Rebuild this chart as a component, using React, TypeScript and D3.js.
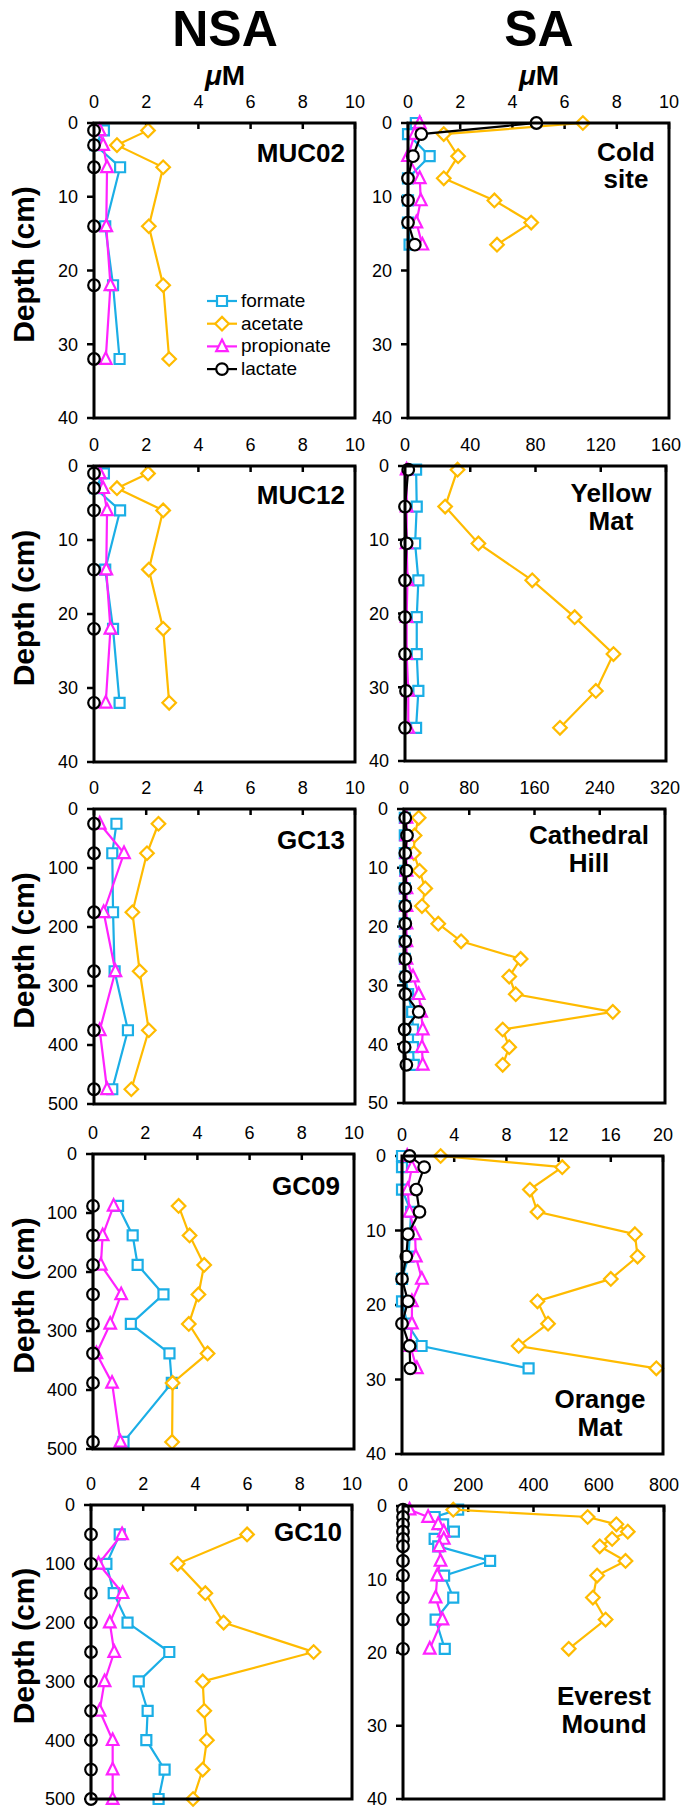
import React from 'react';
import * as d3 from 'd3';

// ---------- data ----------
const seriesNames = ['formate', 'acetate', 'propionate', 'lactate'];

const nsaXTicks = [0, 2, 4, 6, 8, 10];
const coldXTicks = [0, 2, 4, 6, 8, 10];
const yellowXTicks = [0, 40, 80, 120, 160];
const cathedralXTicks = [0, 80, 160, 240, 320];
const orangeXTicks = [0, 4, 8, 12, 16, 20];
const everestXTicks = [0, 200, 400, 600, 800];
const shallowYTicks = [0, 10, 20, 30, 40];
const deepYTicks = [0, 100, 200, 300, 400, 500];
const cathedralYTicks = [0, 10, 20, 30, 40, 50];

const muc02Depth = [1, 3, 6, 14, 22, 32];
const muc02Formate = [0.38, 0.05, 1.0, 0.43, 0.73, 0.98];
const muc02Acetate = [2.07, 0.88, 2.65, 2.1, 2.65, 2.88];
const muc02Propionate = [0.22, 0.35, 0.5, 0.47, 0.63, 0.45];
const muc02Lactate = [0, 0, 0, 0, 0, 0];

const coldDepth = [0, 1.5, 4.5, 7.5, 10.5, 13.5, 16.5];
const coldFormate = [0.3, 0, 0.83, 0, 0, 0, 0.06];
const coldAcetate = [6.7, 1.37, 1.92, 1.37, 3.31, 4.72, 3.41];
const coldPropionate = [0.45, 0.26, 0, 0.45, 0.49, 0.32, 0.55];
const coldLactate = [4.92, 0.51, 0.19, 0, 0, 0, 0.26];

const muc12Depth = [1, 3, 6, 14, 22, 32];
const muc12Formate = [0.38, 0.05, 1.0, 0.43, 0.73, 0.98];
const muc12Acetate = [2.07, 0.88, 2.65, 2.1, 2.65, 2.88];
const muc12Propionate = [0.22, 0.35, 0.5, 0.47, 0.63, 0.45];
const muc12Lactate = [0, 0, 0, 0, 0, 0];

const yellowDepth = [0.5, 5.5, 10.5, 15.5, 20.5, 25.5, 30.5, 35.5];
const yellowFormate = [6.8, 7.2, 6.2, 8.2, 7.2, 7.2, 8.2, 6.8];
const yellowAcetate = [32.2, 24.6, 45, 78, 104, 127.8, 117, 95];
const yellowPropionate = [1, 1, 1, 1.5, 1, 1, 2, 2];
const yellowLactate = [2, 0, 1, 0, 0, 0, 0.6, 0];

const gc13Depth = [25, 75, 175, 275, 375, 475];
const gc13Formate = [0.86, 0.7, 0.73, 0.79, 1.3, 0.7];
const gc13Acetate = [2.47, 2.03, 1.47, 1.75, 2.1, 1.43];
const gc13Propionate = [0.22, 1.15, 0.37, 0.82, 0.22, 0.5];
const gc13Lactate = [0, 0, 0, 0, 0, 0];

const cathedralDepth = [1.5, 4.5, 7.5, 10.5, 13.5, 16.5, 19.5, 22.5, 25.5, 28.5, 31.5, 34.5, 37.5, 40.5, 43.5];
const cathedralFormate = [1, 1, 1, 1.5, 1, 1, 1, 1, 1, 2, 5, 10, 11, 11, 12];
const cathedralAcetate = [18, 13, 12, 19, 26, 22, 42, 70, 143, 129, 137, 256, 121, 129, 121];
const cathedralPropionate = [3, 3, 3, 3, 3, 3, 3, 3, 3, 11, 18, 21, 23, 22, 23];
const cathedralLactate = [1.6, 3.7, 1.6, 2.9, 1.6, 1.6, 1.6, 1.6, 1.6, 1.6, 1.6, 18, 0.8, 0.8, 2.9];

const gc09Depth = [88, 138, 188, 238, 288, 338, 388, 488];
const gc09Formate = [0.96, 1.52, 1.71, 2.7, 1.45, 2.93, 3.02, 1.17];
const gc09Acetate = [3.28, 3.7, 4.26, 4.04, 3.67, 4.39, 3.05, 3.03];
const gc09Propionate = [0.79, 0.37, 0.3, 1.08, 0.66, 0.13, 0.73, 1.05];
const gc09Lactate = [0, 0, 0, 0, 0, 0, 0, 0];

const orangeDepth = [0, 1.5, 4.5, 7.5, 10.5, 13.5, 16.5, 19.5, 22.5, 25.5, 28.5];
const orangeFormate = [0, 0, 0, 0.7, 0.6, 0.5, 0, 0, 0.4, 1.5, 9.7];
const orangeAcetate = [2.96, 12.28, 9.8, 10.38, 17.85, 18.05, 16, 10.38, 11.19, 8.94, 19.49];
const orangePropionate = [0.4, 0.76, 0.43, 0.58, 1.0, 1.06, 1.52, 0.76, 0.76, 0.63, 1.14];
const orangeLactate = [0.58, 1.7, 1.09, 1.34, 0.46, 0.33, 0, 0.46, 0, 0.58, 0.63];

const gc10Depth = [50, 100, 150, 200, 250, 300, 350, 400, 450, 500];
const gc10Formate = [1.1, 0.59, 0.87, 1.4, 3.0, 1.83, 2.17, 2.12, 2.82, 2.59];
const gc10Acetate = [5.98, 3.32, 4.38, 5.08, 8.53, 4.28, 4.34, 4.44, 4.28, 3.91];
const gc10Propionate = [1.19, 0.29, 1.21, 0.72, 0.89, 0.52, 0.33, 0.83, 0.83, 0.83];
const gc10Lactate = [0, 0, 0, 0, 0, 0, 0, 0, 0, 0];

const everestDepth = [0.5, 1.5, 2.5, 3.5, 4.5, 5.5, 7.5, 9.5, 12.5, 15.5, 19.5];
const everestFormate = [169, 97, 123, 156, 97, 108, 267, 126, 154, 100, 128];
const everestAcetate = [154, 566, 654, 689, 641, 603, 682, 595, 582, 621, 508];
const everestPropionate = [20, 77, 108, 125, 125, 111, 115, 105, 100, 121, 82];
const everestLactate = [0, 0, 0, 0, 0, 0, 0, 0, 0, 0, 0];

// ---------- layout / style ----------
const W = 685;
const H = 1808;
const leftX0 = [94, 94, 94, 93, 91];
const rightX0 = [408, 405, 404, 402, 403];
const panelW = 261;
const leftTop = [123, 466, 809, 1154, 1505];
const leftBottom = [418, 762, 1104, 1449, 1799];
const rightTop = [123, 466, 809, 1156, 1506];
const rightBottom = [418, 761, 1103, 1454, 1799];

const colors = ['#1BAEE6', '#FFBB00', '#FF22FF', '#000000'];
const FONT = "'Liberation Sans', Arial, Helvetica, sans-serif";

type LabelSpec = { anchor: 'end' | 'middle'; dx: number; fromBottom: boolean; offsets: number[] };

const panels = [
  { col: 0, row: 0, depth: muc02Depth, series: [muc02Formate, muc02Acetate, muc02Propionate, muc02Lactate], xTicks: nsaXTicks, yTicks: shallowYTicks, label: ['MUC02'], legend: true },
  { col: 1, row: 0, depth: coldDepth, series: [coldFormate, coldAcetate, coldPropionate, coldLactate], xTicks: coldXTicks, yTicks: shallowYTicks, label: ['Cold', 'site'], legend: false },
  { col: 0, row: 1, depth: muc12Depth, series: [muc12Formate, muc12Acetate, muc12Propionate, muc12Lactate], xTicks: nsaXTicks, yTicks: shallowYTicks, label: ['MUC12'], legend: false },
  { col: 1, row: 1, depth: yellowDepth, series: [yellowFormate, yellowAcetate, yellowPropionate, yellowLactate], xTicks: yellowXTicks, yTicks: shallowYTicks, label: ['Yellow', 'Mat'], legend: false },
  { col: 0, row: 2, depth: gc13Depth, series: [gc13Formate, gc13Acetate, gc13Propionate, gc13Lactate], xTicks: nsaXTicks, yTicks: deepYTicks, label: ['GC13'], legend: false },
  { col: 1, row: 2, depth: cathedralDepth, series: [cathedralFormate, cathedralAcetate, cathedralPropionate, cathedralLactate], xTicks: cathedralXTicks, yTicks: cathedralYTicks, label: ['Cathedral', 'Hill'], legend: false },
  { col: 0, row: 3, depth: gc09Depth, series: [gc09Formate, gc09Acetate, gc09Propionate, gc09Lactate], xTicks: nsaXTicks, yTicks: deepYTicks, label: ['GC09'], legend: false },
  { col: 1, row: 3, depth: orangeDepth, series: [orangeFormate, orangeAcetate, orangePropionate, orangeLactate], xTicks: orangeXTicks, yTicks: shallowYTicks, label: ['Orange', 'Mat'], legend: false },
  { col: 0, row: 4, depth: gc10Depth, series: [gc10Formate, gc10Acetate, gc10Propionate, gc10Lactate], xTicks: nsaXTicks, yTicks: deepYTicks, label: ['GC10'], legend: false },
  { col: 1, row: 4, depth: everestDepth, series: [everestFormate, everestAcetate, everestPropionate, everestLactate], xTicks: everestXTicks, yTicks: shallowYTicks, label: ['Everest', 'Mound'], legend: false },
];

const labelSpecs: LabelSpec[] = [
  { anchor: 'end', dx: -10, fromBottom: false, offsets: [39] },
  { anchor: 'middle', dx: -43, fromBottom: false, offsets: [38, 65] },
  { anchor: 'end', dx: -10, fromBottom: false, offsets: [38] },
  { anchor: 'middle', dx: -55, fromBottom: false, offsets: [36, 64] },
  { anchor: 'end', dx: -10, fromBottom: false, offsets: [40] },
  { anchor: 'middle', dx: -76, fromBottom: false, offsets: [35, 63] },
  { anchor: 'end', dx: -14, fromBottom: false, offsets: [41] },
  { anchor: 'middle', dx: -63, fromBottom: true, offsets: [-46, -18] },
  { anchor: 'end', dx: -10, fromBottom: false, offsets: [36] },
  { anchor: 'middle', dx: -60, fromBottom: true, offsets: [-94, -66] },
];

function markerPath(kind: number, cx: number, cy: number): string {
  if (kind === 0) {
    const s = 5;
    return `M${cx - s},${cy - s}H${cx + s}V${cy + s}H${cx - s}Z`;
  }
  if (kind === 1) {
    const s = 6.8;
    return `M${cx},${cy - s}L${cx + s},${cy}L${cx},${cy + s}L${cx - s},${cy}Z`;
  }
  if (kind === 2) {
    const h = 5.8;
    return `M${cx},${cy - h - 1}L${cx + h},${cy + h - 1}L${cx - h},${cy + h - 1}Z`;
  }
  const r = 5.8;
  return `M${cx - r},${cy}A${r},${r} 0 1,0 ${cx + r},${cy}A${r},${r} 0 1,0 ${cx - r},${cy}Z`;
}

function Panel({ p, idx }: { p: (typeof panels)[number]; idx: number }) {
  const x0 = p.col === 0 ? leftX0[p.row] : rightX0[p.row];
  const x1 = x0 + panelW;
  const top = p.col === 0 ? leftTop[p.row] : rightTop[p.row];
  const bottom = p.col === 0 ? leftBottom[p.row] : rightBottom[p.row];
  const xs = d3.scaleLinear().domain([p.xTicks[0], p.xTicks[p.xTicks.length - 1]]).range([x0, x1]);
  const ys = d3.scaleLinear().domain([p.yTicks[0], p.yTicks[p.yTicks.length - 1]]).range([top, bottom]);
  const spec = labelSpecs[idx];
  const lx = x1 + spec.dx;

  return (
    <g>
      {p.xTicks.map((t) => (
        <g key={'xt' + t}>
          <line x1={xs(t)} x2={xs(t)} y1={top} y2={top + 6} stroke="#000" strokeWidth={2.5} />
          <text x={xs(t)} y={top - 15} textAnchor="middle" fontSize={18} fontFamily={FONT}>{t}</text>
        </g>
      ))}
      {p.yTicks.map((t) => (
        <g key={'yt' + t}>
          <line x1={x0 - 7} x2={x0} y1={ys(t)} y2={ys(t)} stroke="#000" strokeWidth={2.5} />
          <text x={x0 - 16} y={ys(t)} dy="0.36em" textAnchor="end" fontSize={18} fontFamily={FONT}>{t}</text>
        </g>
      ))}
      {p.series.map((vals, si) => {
        const line = d3.line<number>()
          .x((v) => xs(v))
          .y((_, i) => ys(p.depth[i]));
        return (
          <g key={'s' + si}>
            <path d={line(vals) || ''} fill="none" stroke={colors[si]} strokeWidth={2.2} />
            {vals.map((v, i) => (
              <path key={i} d={markerPath(si, xs(v), ys(p.depth[i]))} fill="#fff" stroke={colors[si]} strokeWidth={2.2} />
            ))}
          </g>
        );
      })}
      <rect x={x0} y={top} width={x1 - x0} height={bottom - top} fill="none" stroke="#000" strokeWidth={3} />
      {p.label.map((l, li) => (
        <text key={l} x={lx} y={(spec.fromBottom ? bottom : top) + spec.offsets[li]} textAnchor={spec.anchor}
          fontSize={26} fontWeight="bold" fontFamily={FONT}>{l}</text>
      ))}
      {p.legend && seriesNames.map((n, si) => {
        const by = 307 + si * 22.7;
        const cy = by - 6;
        return (
          <g key={n}>
            <line x1={207} x2={237} y1={cy} y2={cy} stroke={colors[si]} strokeWidth={2.2} />
            <path d={markerPath(si, 222, cy)} fill="#fff" stroke={colors[si]} strokeWidth={2.2} />
            <text x={241} y={by} fontSize={19} fontFamily={FONT}>{n}</text>
          </g>
        );
      })}
    </g>
  );
}

export default function App() {
  const depthRows = [0, 1, 2, 3, 4];
  return (
    <svg width={W} height={H} style={{ position: 'absolute', left: 0, top: 0, background: '#fff' }}>
      <rect x={0} y={0} width={W} height={H} fill="#fff" />
      <text x={225} y={46} textAnchor="middle" fontSize={50} fontWeight="bold" fontFamily={FONT}>NSA</text>
      <text x={539} y={46} textAnchor="middle" fontSize={50} fontWeight="bold" fontFamily={FONT}>SA</text>
      <text x={225} y={85} textAnchor="middle" fontSize={28} fontWeight="bold" fontFamily={FONT}>
        <tspan fontStyle="italic">μ</tspan>M
      </text>
      <text x={539} y={85} textAnchor="middle" fontSize={28} fontWeight="bold" fontFamily={FONT}>
        <tspan fontStyle="italic">μ</tspan>M
      </text>
      {depthRows.map((r) => {
        const cy = (leftTop[r] + leftBottom[r]) / 2 - 6;
        return (
          <text key={r} transform={`translate(34,${cy}) rotate(-90)`} textAnchor="middle" fontSize={30}
            fontWeight="bold" fontFamily={FONT}>Depth (cm)</text>
        );
      })}
      {panels.map((p, i) => <Panel key={i} p={p} idx={i} />)}
    </svg>
  );
}
